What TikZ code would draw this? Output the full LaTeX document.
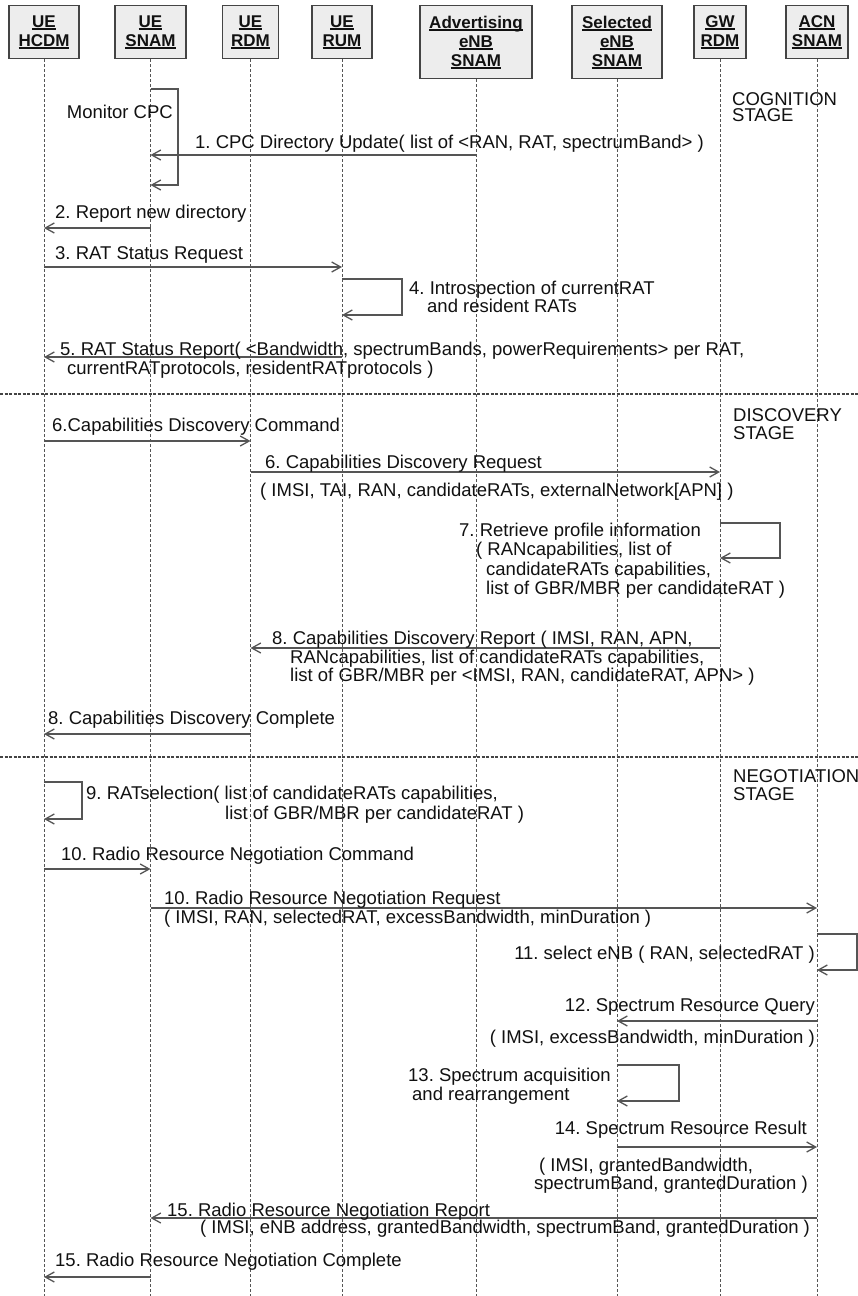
\documentclass[tikz,border=0pt]{standalone}
\usepackage{fontspec}
\setmainfont{Liberation Sans}
\usetikzlibrary{arrows.meta}
\definecolor{linec}{HTML}{555555}
\definecolor{boxfill}{HTML}{EDEDED}
\definecolor{boxdraw}{HTML}{444444}
\definecolor{textc}{HTML}{111111}
\frenchspacing
\newcommand{\lblfont}{\fontsize{18.5}{18.5}\selectfont}
\newcommand{\hdfont}{\fontsize{17}{19}\selectfont\bfseries}
\newcommand{\hdu}[1]{\setbox0=\hbox{#1}\hbox{\rlap{\copy0}\rule[-2.5pt]{\wd0}{1.4pt}}}
\begin{document}
\begin{tikzpicture}[x=1pt,y=-1pt,
  hdbox/.style={draw=boxdraw, fill=boxfill, line width=1.2pt, anchor=north, inner sep=0pt, align=center, font=\hdfont, text=textc},
  lifeline/.style={draw=linec, line width=0.9pt, dash pattern=on 3pt off 2pt},
  msg/.style={draw=linec, line width=1.3pt, -{Straight Barb[length=9pt,width=10pt]}},
  stagesep/.style={draw=boxdraw, line width=2pt, dash pattern=on 3pt off 1.5pt},
  lbl/.style={anchor=north west, inner sep=0pt, align=left, font=\lblfont, text=textc},
  rlbl/.style={anchor=north east, inner sep=0pt, align=right, font=\lblfont, text=textc}]
\fill[white] (0,0) rectangle (858,1296);
\useasboundingbox (0,0) rectangle (858,1296);
\coordinate (bot) at (0,1296);
\coordinate (sepL) at (0,0);
\coordinate (sepR) at (858,0);
% header boxes
\node[hdbox, minimum width=70pt, minimum height=53pt] (hcdm) at (44,5) {\hdu{UE}\\\hdu{HCDM}};
\node[hdbox, minimum width=71pt, minimum height=53pt] (snam) at (150.5,5) {\hdu{UE}\\\hdu{SNAM}};
\node[hdbox, minimum width=56pt, minimum height=53pt] (rdm) at (250.5,5) {\hdu{UE}\\\hdu{RDM}};
\node[hdbox, minimum width=60pt, minimum height=53pt] (rum) at (342,5) {\hdu{UE}\\\hdu{RUM}};
\node[hdbox, minimum width=112pt, minimum height=73pt] (adv) at (476,5) {\hdu{Advertising}\\\hdu{eNB}\\\hdu{SNAM}};
\node[hdbox, minimum width=90pt, minimum height=73pt] (sel) at (617,5) {\hdu{Selected}\\\hdu{eNB}\\\hdu{SNAM}};
\node[hdbox, minimum width=52pt, minimum height=53pt] (gw) at (720,5) {\hdu{GW}\\\hdu{RDM}};
\node[hdbox, minimum width=62pt, minimum height=53pt] (acn) at (817,5) {\hdu{ACN}\\\hdu{SNAM}};
% lifelines
\foreach \n in {hcdm,snam,rdm,rum,adv,sel,gw,acn}
  \draw[lifeline] (\n.south) -- (\n.south |- bot);
% stage separators
\draw[stagesep] (sepL |- 0,394) -- (sepR |- 0,394);
\draw[stagesep] (sepL |- 0,757) -- (sepR |- 0,757);
% cognition stage
\draw[msg] (snam.south |- 0,89) -| (178,185) -- (snam.south |- 0,185);
\node[rlbl] (monitor) at (173,105) {Monitor CPC};
\draw[msg] (adv.south |- 0,155) -- (snam.south |- 0,155);
\node[lbl] (t1) at (195,135) {1. CPC Directory Update( list of <RAN, RAT, spectrumBand> )};
\draw[msg] (snam.south |- 0,228) -- (hcdm.south |- 0,228);
\node[lbl] (t2) at (55,205) {2. Report new directory};
\draw[msg] (hcdm.south |- 0,267) -- (rum.south |- 0,267);
\node[lbl] (t3) at (55,246) {3. RAT Status Request};
\draw[msg] (rum.south |- 0,279) -| (402,315) -- (rum.south |- 0,315);
\node[lbl, font=\fontsize{18.5}{17}\selectfont] (t4) at (409,281) {4. Introspection of currentRAT\\\hspace*{18pt}and resident RATs};
\draw[msg] (rum.south |- 0,357) -- (hcdm.south |- 0,357);
\node[lbl] (t5) at (60,342) {5. RAT Status Report( <Bandwidth, spectrumBands, powerRequirements> per RAT,\\\hspace*{7pt}currentRATprotocols, residentRATprotocols )};
\node[lbl, font=\fontsize{18.5}{16.5}\selectfont] (cog) at (732,92) {COGNITION\\STAGE};
% discovery stage
\node[lbl] (disc) at (733,408) {DISCOVERY\\STAGE};
\draw[msg] (hcdm.south |- 0,441) -- (rdm.south |- 0,441);
\node[lbl] (t6a) at (52,418) {6.Capabilities Discovery Command};
\draw[msg] (rdm.south |- 0,472) -- (gw.south |- 0,472);
\node[lbl] (t6b) at (265,455) {6. Capabilities Discovery Request};
\node[lbl] (t6p) at (260,483) {( IMSI, TAI, RAN, candidateRATs, externalNetwork[APN] )};
\draw[msg] (gw.south |- 0,523) -| (780,558) -- (gw.south |- 0,558);
\node[lbl, font=\fontsize{18.5}{19.3}\selectfont] (t7) at (459,523) {7. Retrieve profile information\\\hspace*{17pt}( RANcapabilities, list of\\\hspace*{27pt}candidateRATs capabilities,\\\hspace*{27pt}list of GBR/MBR per candidateRAT )};
\draw[msg] (gw.south |- 0,648) -- (rdm.south |- 0,648);
\node[lbl] (t8) at (272,631) {8. Capabilities Discovery Report ( IMSI, RAN, APN,\\\hspace*{18pt}RANcapabilities, list of candidateRATs capabilities,\\\hspace*{18pt}list of GBR/MBR per <IMSI, RAN, candidateRAT, APN> )};
\draw[msg] (rdm.south |- 0,734) -- (hcdm.south |- 0,734);
\node[lbl] (t8b) at (48,711) {8. Capabilities Discovery Complete};
% negotiation stage
\node[lbl] (nego) at (733,769) {NEGOTIATION\\STAGE};
\draw[msg] (hcdm.south |- 0,782) -| (82,819) -- (hcdm.south |- 0,819);
\node[lbl, font=\fontsize{18.5}{20}\selectfont] (t9) at (86,786) {9. RATselection( list of candidateRATs capabilities,\\\hspace*{139pt}list of GBR/MBR per candidateRAT )};
\draw[msg] (hcdm.south |- 0,869) -- (snam.south |- 0,869);
\node[lbl] (t10a) at (61,847) {10. Radio Resource Negotiation Command};
\draw[msg] (snam.south |- 0,908) -- (acn.south |- 0,908);
\node[lbl] (t10b) at (164,891) {10. Radio Resource Negotiation Request};
\node[lbl] (t10p) at (164,910) {( IMSI, RAN, selectedRAT, excessBandwidth, minDuration )};
\draw[msg] (acn.south |- 0,934) -| (857,970) -- (acn.south |- 0,970);
\node[rlbl] (t11) at (815,946) {11. select eNB ( RAN, selectedRAT )};
\draw[msg] (acn.south |- 0,1021) -- (sel.south |- 0,1021);
\node[rlbl] (t12) at (815,998) {12. Spectrum Resource Query};
\node[rlbl] (t12p) at (815,1030) {( IMSI, excessBandwidth, minDuration )};
\draw[msg] (sel.south |- 0,1065) -| (679,1101) -- (sel.south |- 0,1101);
\node[lbl] (t13) at (408,1068) {13. Spectrum acquisition\\\hspace*{4pt}and rearrangement};
\draw[msg] (sel.south |- 0,1147) -- (acn.south |- 0,1147);
\node[rlbl] (t14) at (807,1121) {14. Spectrum Resource Result};
\node[lbl, font=\fontsize{18.5}{17}\selectfont] (t14p) at (534,1158) {\hspace*{5pt}( IMSI, grantedBandwidth,\\spectrumBand, grantedDuration )};
\draw[msg] (acn.south |- 0,1218) -- (snam.south |- 0,1218);
\node[lbl] (t15) at (167,1203) {15. Radio Resource Negotiation Report};
\node[lbl] (t15p) at (200,1220) {( IMSI, eNB address, grantedBandwidth, spectrumBand, grantedDuration )};
\draw[msg] (snam.south |- 0,1277) -- (hcdm.south |- 0,1277);
\node[lbl] (t15b) at (55,1253) {15. Radio Resource Negotiation Complete};
\end{tikzpicture}
\end{document}
